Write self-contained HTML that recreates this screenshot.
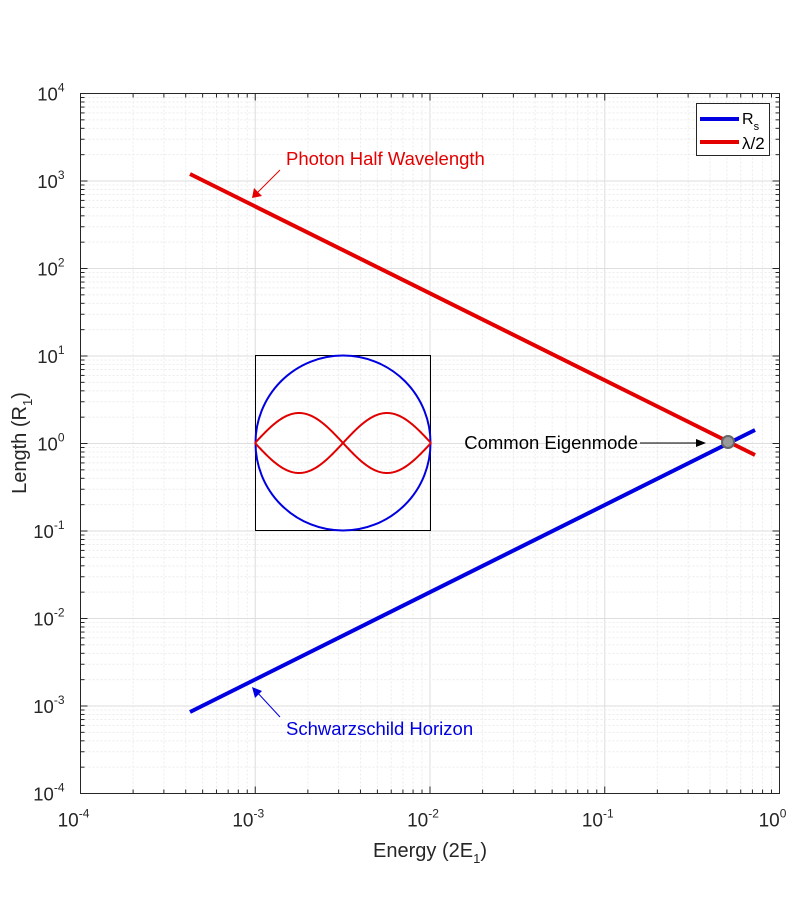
<!DOCTYPE html>
<html><head><meta charset="utf-8"><style>
body{margin:0;background:#fff}
svg{display:block;font-family:"Liberation Sans",Arial,sans-serif}
</style></head><body>
<svg id="s" width="800" height="900" xmlns="http://www.w3.org/2000/svg">
<rect width="800" height="900" fill="#fff"/>
<g id="grid"></g>
<g id="ticks"></g>
<rect x="80.5" y="93.5" width="699" height="700" fill="none" stroke="#262626" stroke-width="1"/>
<line x1="190" y1="174" x2="755" y2="455" stroke="#e50000" stroke-width="4"/>
<line x1="190" y1="712" x2="755" y2="430" stroke="#0000e0" stroke-width="4"/>
<circle cx="728" cy="442" r="6" fill="#999" stroke="#666" stroke-width="2"/>
<rect x="255.5" y="355.5" width="175" height="175" fill="none" stroke="#000" stroke-width="1"/>
<circle cx="343" cy="443" r="87.5" fill="none" stroke="#0000e0" stroke-width="2"/>
<path id="w1" fill="none" stroke="#e00000" stroke-width="2"/>
<path id="w2" fill="none" stroke="#e00000" stroke-width="2"/>
<text x="286" y="165" font-size="18.5" fill="#e50000">Photon Half Wavelength</text>
<line x1="280" y1="170" x2="256" y2="194" stroke="#e50000" stroke-width="1"/>
<path d="M252,198 L254,188 L262,196 Z" fill="#e50000"/>
<text x="286" y="735" font-size="18.5" fill="#0000e0">Schwarzschild Horizon</text>
<line x1="280" y1="717" x2="256" y2="691" stroke="#0000e0" stroke-width="1"/>
<path d="M252,687 L262,691 L255,698 Z" fill="#0000e0"/>
<text x="638" y="449" font-size="18.5" fill="#000" text-anchor="end">Common Eigenmode</text>
<line x1="640" y1="443" x2="698" y2="443" stroke="#000" stroke-width="1"/>
<path d="M706,443 L696,439 L696,447 Z" fill="#000"/>
<rect x="696.5" y="103.5" width="73" height="52" fill="#fff" stroke="#262626" stroke-width="1"/>
<line x1="700" y1="119" x2="739" y2="119" stroke="#0000e0" stroke-width="4"/>
<line x1="700" y1="142" x2="739" y2="142" stroke="#e50000" stroke-width="4"/>
<text x="742" y="124" font-size="16">R<tspan font-size="11" dy="6">s</tspan></text>
<text x="742" y="149" font-size="17">λ/2</text>
<text x="430" y="857" font-size="20" text-anchor="middle" fill="#262626">Energy (2E<tspan font-size="13" dy="6">1</tspan><tspan dy="-6">)</tspan></text>
<text transform="translate(26,443) rotate(-90)" font-size="20" text-anchor="middle" fill="#262626">Length (R<tspan font-size="13" dy="6">1</tspan><tspan dy="-6">)</tspan></text>
</svg>
<script>
const NS="http://www.w3.org/2000/svg";
const L=80.5,R=779.5,T=93.5,B=793.5,dx=(R-L)/4,dy=(B-T)/8;
const g=document.getElementById('grid'),tk=document.getElementById('ticks');
function el(p,t,a){const e=document.createElementNS(NS,t);for(const k in a)e.setAttribute(k,a[k]);p.appendChild(e);return e;}
for(let d=0;d<4;d++)for(let m=1;m<10;m++){const x=L+dx*(d+Math.log10(m));if(m==1&&d==0)continue;
 el(g,'line',{x1:x,x2:x,y1:T,y2:B,stroke:m==1?'#dedede':'#ececec','stroke-dasharray':m==1?'':'2,2','stroke-width':1});
 const len=m==1?7:4;el(tk,'line',{x1:x,x2:x,y1:B,y2:B-len,stroke:'#262626'});el(tk,'line',{x1:x,x2:x,y1:T,y2:T+len,stroke:'#262626'});}
for(let d=0;d<8;d++)for(let m=1;m<10;m++){const y=B-dy*(d+Math.log10(m));if(m==1&&d==0)continue;
 el(g,'line',{y1:y,y2:y,x1:L,x2:R,stroke:m==1?'#dedede':'#ececec','stroke-dasharray':m==1?'':'2,2','stroke-width':1});
 const len=m==1?7:4;el(tk,'line',{y1:y,y2:y,x1:L,x2:L+len,stroke:'#262626'});el(tk,'line',{y1:y,y2:y,x1:R,x2:R-len,stroke:'#262626'});}
for(let d=0;d<=4;d++){const x=L+dx*d;const t=el(tk,'text',{x:x-7,y:B+33,'font-size':19,'text-anchor':'middle',fill:'#262626'});
 t.innerHTML='10<tspan font-size="12" dy="-9">'+(d-4==0?'0':(d-4))+'</tspan>';}
for(let d=0;d<=8;d++){const y=B-dy*d;const t=el(tk,'text',{x:L-16,y:y+7,'font-size':18.5,'text-anchor':'end',fill:'#262626'});
 t.innerHTML='10<tspan font-size="12" dy="-9">'+(d-4)+'</tspan>';}
let p1='',p2='';for(let i=0;i<=176;i++){const x=255+i,s=30*Math.abs(Math.sin(2*Math.PI*i/176));p1+=(i?'L':'M')+x+','+(443-s);p2+=(i?'L':'M')+x+','+(443+s);}
document.getElementById('w1').setAttribute('d',p1);document.getElementById('w2').setAttribute('d',p2);
</script>
</body></html>
